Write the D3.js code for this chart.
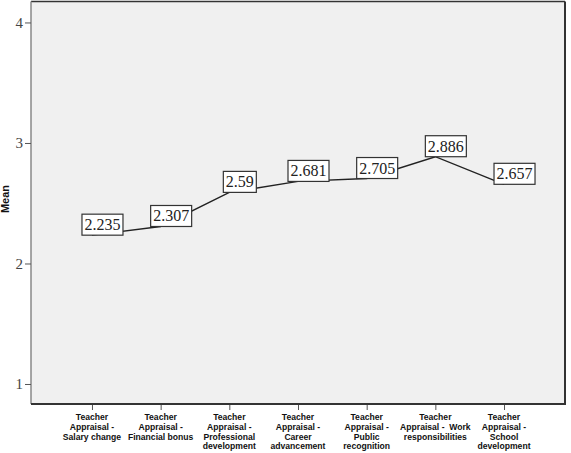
<!DOCTYPE html>
<html>
<head>
<meta charset="utf-8">
<script src="https://cdn.jsdelivr.net/npm/d3@7"></script>
<style>
  body { margin: 0; background: #fff; }
  svg { display: block; }
</style>
</head>
<body>
<svg id="chart" width="571" height="453"></svg>
<script>
// categories, wrapped as in the picture
var categories = [
    "Teacher\nAppraisal -\nSalary change",
    "Teacher\nAppraisal -\nFinancial bonus",
    "Teacher\nAppraisal -\nProfessional\ndevelopment",
    "Teacher\nAppraisal -\nCareer\nadvancement",
    "Teacher\nAppraisal -\nPublic\nrecognition",
    "Teacher\nAppraisal -  Work\nresponsibilities",
    "Teacher\nAppraisal -\nSchool\ndevelopment"
];
var means = [2.235, 2.307, 2.59, 2.681, 2.705, 2.886, 2.657];
var meanLabels = ["2.235", "2.307", "2.59", "2.681", "2.705", "2.886", "2.657"];
var yTicks = [1, 2, 3, 4];

var width = 571;
var height = 453;
var plotLeft = 31, plotRight = 565, plotTop = 1.5, plotBottom = 404;

var svg = d3.select("#chart");

var x = d3.scalePoint()
    .domain(categories)
    .range([plotLeft, plotRight])
    .padding(0.888);

var y = d3.scaleLinear()
    .domain([0.834, 4.174])
    .range([plotBottom, plotTop]);

//plot background
svg.append("rect")
    .attr("x", plotLeft)
    .attr("y", plotTop)
    .attr("width", plotRight - plotLeft)
    .attr("height", plotBottom - plotTop)
    .style("fill", "#f0f0f0");

//frame: dark on top, right and bottom, grey on the left
svg.append("line")
    .attr("x1", plotLeft).attr("x2", plotRight)
    .attr("y1", plotTop).attr("y2", plotTop)
    .style("stroke", "#333").style("stroke-width", 1.5);
svg.append("line")
    .attr("x1", plotRight).attr("x2", plotRight)
    .attr("y1", plotTop).attr("y2", plotBottom)
    .style("stroke", "#333").style("stroke-width", 2);
svg.append("line")
    .attr("x1", plotLeft).attr("x2", plotLeft)
    .attr("y1", plotTop).attr("y2", plotBottom)
    .style("stroke", "#888").style("stroke-width", 1.5);

//y axis
var yAxis = d3.axisLeft(y)
    .tickValues(yTicks)
    .tickSize(6)
    .tickPadding(2)
    .tickFormat(d3.format("d"));
var yg = svg.append("g")
    .attr("transform", "translate(" + plotLeft + ",0)")
    .call(yAxis);
yg.select(".domain").remove();
yg.selectAll(".tick line").style("stroke", "#555");
yg.selectAll(".tick text")
    .style("font-family", "'Liberation Serif', serif")
    .style("font-size", "15px")
    .style("fill", "#444");

//x axis
var xAxis = d3.axisBottom(x)
    .tickSize(6)
    .tickFormat("");
var xg = svg.append("g")
    .attr("transform", "translate(0," + plotBottom + ")")
    .call(xAxis);
xg.select(".domain").remove();
xg.selectAll(".tick line").style("stroke", "#555");

svg.append("line")
    .attr("x1", plotLeft).attr("x2", plotRight + 1)
    .attr("y1", plotBottom).attr("y2", plotBottom)
    .style("stroke", "#333").style("stroke-width", 2);

//wrapped category labels
var xlabels = svg.append("g").selectAll("text")
    .data(categories)
    .enter().append("text")
    .attr("x", function (d) { return x(d); })
    .attr("y", 420)
    .attr("text-anchor", "middle")
    .style("font-family", "'Liberation Sans', Arial, sans-serif")
    .style("font-size", "8.6px")
    .style("font-weight", "bold")
    .style("white-space", "pre")
    .style("fill", "#111");
xlabels.each(function (d) {
    var lines = d.split("\n");
    var t = d3.select(this);
    lines.forEach(function (line, i) {
        t.append("tspan")
            .attr("x", x(d))
            .attr("dy", i == 0 ? 0 : 9.8)
            .text(line);
    });
});

//y axis title
svg.append("text")
    .attr("transform", "translate(9,199) rotate(-90)")
    .attr("text-anchor", "middle")
    .style("font-family", "'Liberation Sans', Arial, sans-serif")
    .style("font-size", "11px")
    .style("font-weight", "bold")
    .style("fill", "#111")
    .text("Mean");

//mean line
var line = d3.line()
    .x(function (d, i) { return x(categories[i]); })
    .y(function (d) { return y(d); });

svg.append("path")
    .datum(means)
    .attr("d", line)
    .style("fill", "none")
    .style("stroke", "#222")
    .style("stroke-width", 1.4);

//value labels in boxes
var labels = svg.append("g").selectAll("g")
    .data(means)
    .enter().append("g");

labels.each(function (d, i) {
    var g = d3.select(this);
    var cx = x(categories[i]) + 10.5;
    var by = y(d);
    var rect = g.append("rect");
    var txt = g.append("text")
        .attr("x", cx)
        .attr("y", by - 5)
        .attr("text-anchor", "middle")
        .style("font-family", "'Liberation Serif', 'Times New Roman', serif")
        .style("font-size", "16px")
        .style("fill", "#222")
        .text(meanLabels[i]);
    var w = txt.node().getComputedTextLength() + 5;
    rect.attr("x", cx - w / 2)
        .attr("y", by - 21)
        .attr("width", w)
        .attr("height", 21)
        .style("fill", "#fff")
        .style("stroke", "#333")
        .style("stroke-width", 1.2);
});
</script>
</body>
</html>
